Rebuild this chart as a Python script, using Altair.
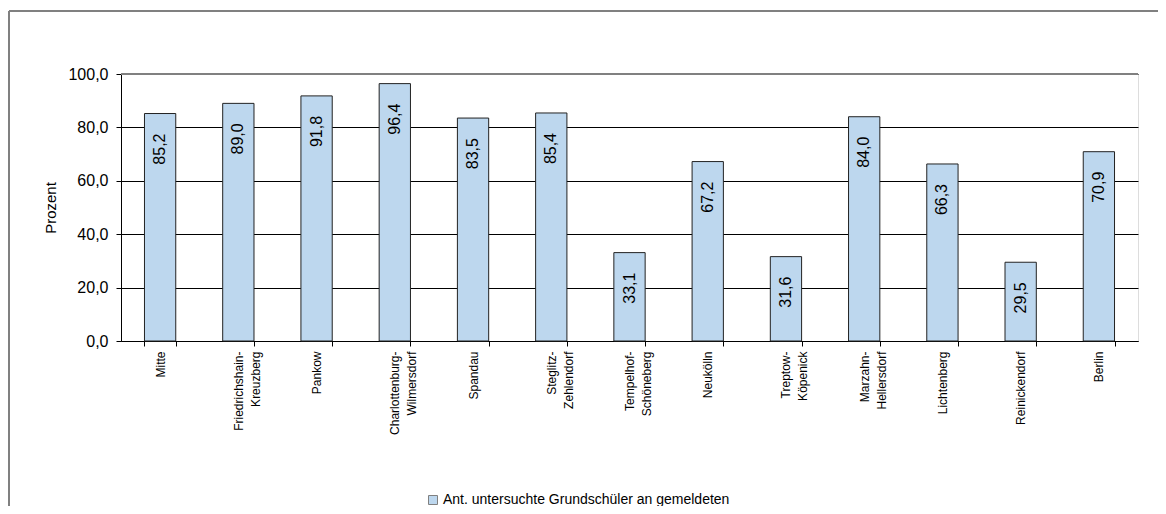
import altair as alt
import pandas as pd

categories = ["Mitte", "Friedrichshain-\nKreuzberg", "Pankow", "Charlottenburg-\nWilmersdorf",
              "Spandau", "Steglitz-\nZehlendorf", "Tempelhof-\nSchöneberg", "Neukölln",
              "Treptow-\nKöpenick", "Marzahn-\nHellersdorf", "Lichtenberg", "Reinickendorf", "Berlin"]
values = [85.2, 89.0, 91.8, 96.4, 83.5, 85.4, 33.1, 67.2, 31.6, 84.0, 66.3, 29.5, 70.9]
series_name = "Ant. untersuchte Grundschüler an gemeldeten"
y_ticks = [0, 20, 40, 60, 80, 100]

df = pd.DataFrame({"Bezirk": categories, "Wert": values, "Serie": series_name})

W, H = 1017, 267
FONT = "Liberation Sans"

x_enc = alt.X("Bezirk:N", sort=categories,
              scale=alt.Scale(paddingInner=0.6, paddingOuter=0.3),
              axis=alt.Axis(title=None, labelAngle=270, labelAlign="right", labelBaseline="middle",
                            labelExpr="split(datum.label, '\\n')", labelFontSize=12,
                            labelLineHeight=17, labelPadding=5, labelColor="#000000",
                            labelFont=FONT, tickBand="extent", tickSize=5, tickColor="#000000",
                            domainColor="#000000", grid=False))
y_scale = alt.Scale(domain=[0, 100], nice=False)

bars = alt.Chart(df).mark_bar(stroke="#222222", strokeWidth=1).encode(
    x=x_enc,
    y=alt.Y("Wert:Q", scale=y_scale,
            axis=alt.Axis(values=y_ticks, title="Prozent",
                          labelExpr="replace(format(datum.value, '.1f'), '.', ',')",
                          labelFontSize=16, labelFont=FONT, labelColor="#000000", labelPadding=8,
                          tickSize=5, tickColor="#000000", domainColor="#000000",
                          gridColor="#000000", gridWidth=1,
                          titleFontSize=15, titleFont=FONT, titleFontWeight="normal",
                          titleColor="#000000", titleX=-71, titleY=H / 2, titleAngle=270,
                          titleAlign="center", titleBaseline="middle")),
    color=alt.Color("Serie:N", scale=alt.Scale(range=["#BDD7EE"]),
                    legend=alt.Legend(title=None, orient="none", legendX=305, legendY=419,
                                      symbolType="square", symbolSize=81,
                                      symbolStrokeColor="#808080", symbolStrokeWidth=1,
                                      labelFontSize=14, labelFont=FONT, labelColor="#000000",
                                      labelOffset=3, labelLimit=0, padding=0)),
)

labels = alt.Chart(df).transform_calculate(
    txt="replace(format(datum.Wert, '.1f'), '.', ',')"
).mark_text(angle=270, align="right", baseline="middle", dx=-20, fontSize=16,
            font=FONT, color="#000000").encode(
    x=alt.X("Bezirk:N", sort=categories),
    y=alt.Y("Wert:Q", scale=y_scale),
    text="txt:N",
)

top_line = alt.Chart(pd.DataFrame({"v": [100]})).mark_rule(color="#808080", strokeWidth=2).encode(
    y=alt.Y("v:Q", scale=y_scale), x=alt.value(0), x2=alt.value(W)
)

frame_df = pd.DataFrame({"k": [0]})
frame_top = alt.Chart(frame_df).mark_rule(color="#808080", strokeWidth=2).encode(
    x=alt.value(-112), x2=alt.value(W + 60), y=alt.value(-63)
)
frame_left = alt.Chart(frame_df).mark_rule(color="#808080", strokeWidth=2).encode(
    x=alt.value(-112), y=alt.value(-63), y2=alt.value(H + 220)
)

chart = alt.layer(bars, labels, top_line, frame_top, frame_left).properties(
    width=W, height=H,
    autosize=alt.AutoSizeParams(type="none"),
    padding={"left": 113, "top": 66, "right": 20, "bottom": 165},
).configure_view(stroke=None).configure(background="#ffffff")

chart.save("out.html", embed_options={"renderer": "svg", "actions": False})
